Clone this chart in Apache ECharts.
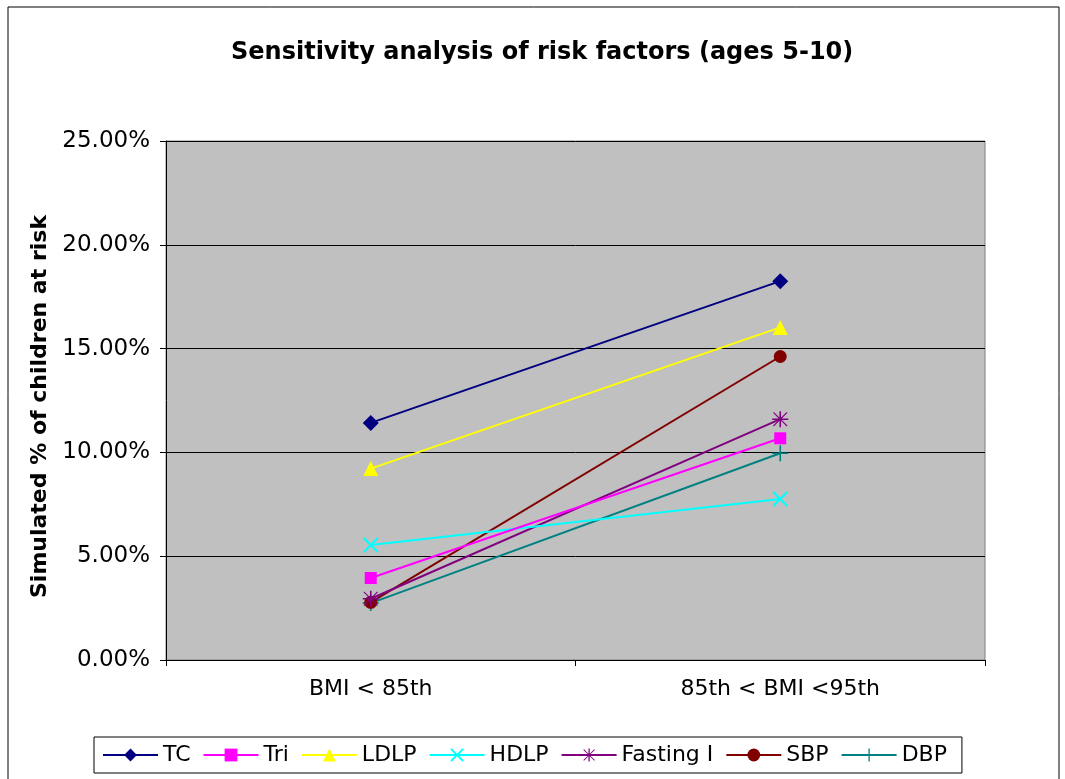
<!DOCTYPE html>
<html>
<head>
<meta charset="utf-8">
<script src="https://cdn.jsdelivr.net/npm/echarts@6/dist/echarts.min.js"></script>
<style>
  html, body { margin: 0; padding: 0; background: #fff; }
  #chart { width: 1065px; height: 779px; }
</style>
</head>
<body>
<div id="chart"></div>
<script>
// 类别 / 数据
var categories = ['BMI < 85th', '85th < BMI <95th']
var seriesNames = ['TC', 'Tri', 'LDLP', 'HDLP', 'Fasting I', 'SBP', 'DBP']
var tcData = [11.42, 18.25]
var triData = [3.95, 10.68]
var ldlpData = [9.22, 16.02]
var hdlpData = [5.54, 7.76]
var fastingData = [2.95, 11.6]
var sbpData = [2.78, 14.62]
var dbpData = [2.74, 9.96]
var yTicks = [0, 5, 10, 15, 20, 25]

var font = 'DejaVu Sans'

// 自定义符号
var xPath = 'path://M0,0 L2,0 L10,8 L18,0 L20,0 L20,2 L12,10 L20,18 L20,20 L18,20 L10,12 L2,20 L0,20 L0,18 L8,10 L0,2 Z'
var plusPath = 'path://M9,0 H11 V9 H20 V11 H11 V20 H9 V11 H0 V9 H9 Z'
var starPath = 'path://M9,0 H11 V8 L18,1 L19,2 L12,9 H20 V11 H12 L19,18 L18,19 L11,12 V20 H9 V12 L2,19 L1,18 L8,11 H0 V9 H8 L1,2 L2,1 L9,8 Z'

var defs = [
  { data: tcData, color: '#000080', symbol: 'diamond', size: 16 },
  { data: triData, color: '#FF00FF', symbol: 'rect', size: 12 },
  { data: ldlpData, color: '#FFFF00', symbol: 'triangle', size: 15 },
  { data: hdlpData, color: '#00FFFF', symbol: xPath, size: 15 },
  { data: fastingData, color: '#800080', symbol: starPath, size: 16 },
  { data: sbpData, color: '#800000', symbol: 'circle', size: 13 },
  { data: dbpData, color: '#008080', symbol: plusPath, size: 16 }
]

var series = []
for (var i = 0; i < defs.length; i++) {
  var d = defs[i]
  series.push({
    name: seriesNames[i],
    type: 'line',
    data: d.data,
    symbol: d.symbol,
    symbolSize: d.size,
    showAllSymbol: true,
    lineStyle: { color: d.color, width: 2 },
    itemStyle: { color: d.color },
    emphasis: { disabled: true },
    z: 10 - i
  })
}

var option = {
  animation: false,
  textStyle: { fontFamily: font },
  title: {
    text: 'Sensitivity analysis of risk factors (ages 5-10)',
    left: 226,
    top: 36,
    textStyle: { fontFamily: font, fontSize: 24, fontWeight: 'bold', color: '#000' }
  },
  graphic: [{
    type: 'rect',
    shape: { x: 8, y: 7, width: 1051, height: 800 },
    style: { fill: 'none', stroke: '#000', lineWidth: 1 },
    silent: true
  }],
  grid: {
    left: 166,
    right: 80,
    top: 141,
    bottom: 119,
    show: true,
    backgroundColor: '#C0C0C0',
    borderColor: '#808080',
    borderWidth: 1
  },
  legend: {
    data: seriesNames,
    left: 94,
    top: 737,
    itemWidth: 55,
    itemHeight: 16,
    itemGap: 12,
    padding: [7, 15, 7, 8],
    borderColor: '#000',
    borderWidth: 1,
    backgroundColor: '#fff',
    lineStyle: { width: 2 },
    textStyle: { fontFamily: font, fontSize: 22, color: '#000' }
  },
  xAxis: {
    type: 'category',
    data: categories,
    axisLine: { lineStyle: { color: '#000', width: 1 } },
    axisTick: { show: true, length: 6, lineStyle: { color: '#000' } },
    axisLabel: { fontFamily: font, fontSize: 22, color: '#000', margin: 18 },
    splitLine: { show: false }
  },
  yAxis: {
    type: 'value',
    min: yTicks[0],
    max: yTicks[yTicks.length - 1],
    interval: 5,
    name: 'Simulated % of children at risk',
    nameLocation: 'middle',
    nameGap: 113,
    nameTextStyle: { fontFamily: font, fontSize: 22, fontWeight: 'bold', color: '#000', padding: [0, 12, 0, 0] },
    axisLine: { show: true, lineStyle: { color: '#000', width: 1 } },
    axisTick: { show: true, length: 6, lineStyle: { color: '#000' } },
    axisLabel: {
      fontFamily: font,
      fontSize: 23,
      color: '#000',
      margin: 16,
      formatter: function (v) { return v.toFixed(2) + '%' }
    },
    splitLine: { show: true, lineStyle: { color: '#000', width: 1 } }
  },
  series: series
}

var myChart = echarts.init(document.getElementById('chart'))
myChart.setOption(option)
</script>
</body>
</html>
